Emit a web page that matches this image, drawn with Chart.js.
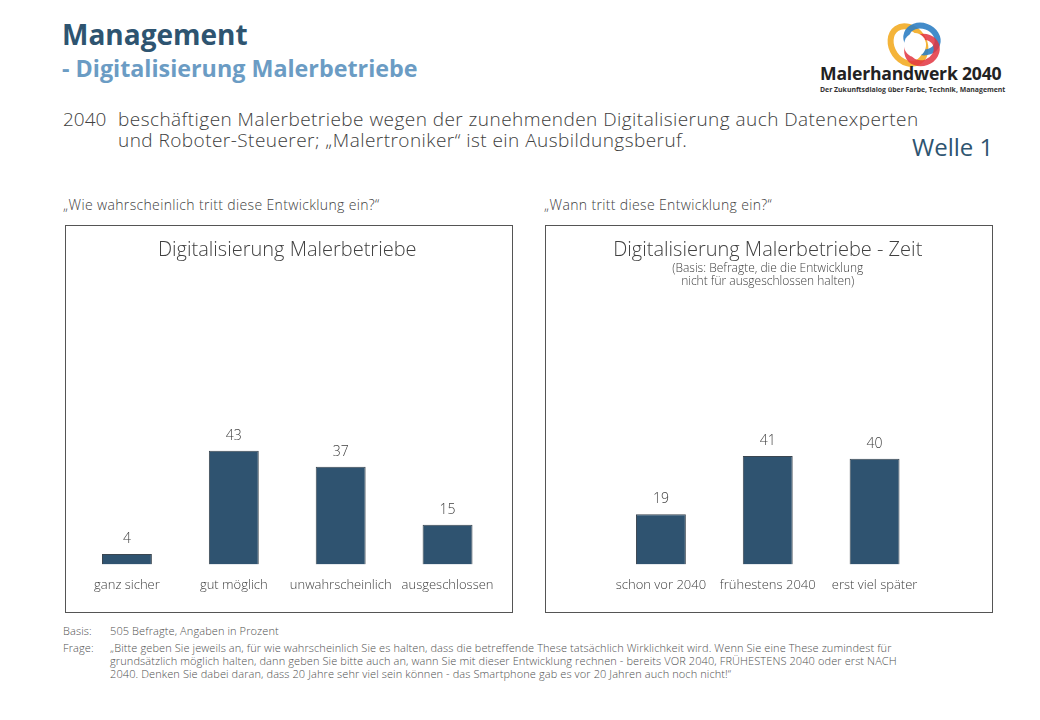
<!DOCTYPE html>
<html lang="de">
<head>
<meta charset="utf-8">
<title>Digitalisierung Malerbetriebe</title>
<script src="https://cdn.jsdelivr.net/npm/chart.js@4.4.1/dist/chart.umd.min.js"></script>
<style>
  body { margin: 0; width: 1040px; height: 720px; background: #fff; position: relative; overflow: hidden;
         font-family: "Open Sans", "DejaVu Sans", sans-serif; color: #404040; }
  .abs { position: absolute; white-space: nowrap; }
  .h1 { left: 62px; top: 15px; font-size: 28px; font-weight: 700; color: #2e5470; line-height: 38px; }
  .h2 { left: 62px; top: 52px; font-size: 23.3px; font-weight: 700; color: #6b9cc4; line-height: 32px; }
  .lead { left: 63px; top: 109px; font-size: 19px; font-weight: 300; line-height: 21px; letter-spacing: 0.45px; }
  .lead span { display: inline-block; width: 55px; letter-spacing: 0; }
  .lead .l2 { padding-left: 55px; }
  .welle { left: 912px; top: 131px; font-size: 24px; color: #2e5470; line-height: 32px; }
  .q { font-size: 14px; font-weight: 300; line-height: 16px; top: 197px; letter-spacing: 0.35px; }
  .box { position: absolute; top: 225px; width: 448px; height: 388px; border: 1px solid #555; box-sizing: border-box; }
  canvas { position: absolute; top: 225px; }
  .foot { font-size: 11px; font-weight: 300; color: #505050; line-height: 13px; letter-spacing: 0.1px; }
  .logo-t1 { left: 820px; top: 61px; font-size: 17.6px; font-weight: 700; color: #222; line-height: 24px; letter-spacing: -0.2px; }
  .logo-t2 { left: 820px; top: 85px; font-size: 6.9px; font-weight: 700; color: #333; line-height: 10px; }
</style>
</head>
<body>
<div class="abs h1">Management</div>
<div class="abs h2">- Digitalisierung Malerbetriebe</div>
<svg class="abs" style="left:882px;top:19px" width="70" height="50" viewBox="0 0 70 50">
  <ellipse cx="26" cy="26" rx="16" ry="20" transform="rotate(-35 26 26)" fill="none" stroke="#f4b43a" stroke-width="6"/>
  <ellipse cx="40" cy="20" rx="16" ry="13" transform="rotate(20 40 20)" fill="none" stroke="#2f7fc4" stroke-width="6" opacity="0.9"/>
  <ellipse cx="40" cy="31" rx="15" ry="13" transform="rotate(-20 40 31)" fill="none" stroke="#e2343f" stroke-width="6" opacity="0.85"/>
  <ellipse cx="33" cy="26" rx="11" ry="12" fill="#fff"/>
</svg>
<div class="abs logo-t1">Malerhandwerk 2040</div>
<div class="abs logo-t2">Der Zukunftsdialog über Farbe, Technik, Management</div>

<div class="abs lead"><span>2040</span>beschäftigen Malerbetriebe wegen der zunehmenden Digitalisierung auch Datenexperten<br><div class="l2">und Roboter-Steuerer; „Malertroniker“ ist ein Ausbildungsberuf.</div></div>
<div class="abs welle">Welle 1</div>

<div class="abs q" style="left:63px">„Wie wahrscheinlich tritt diese Entwicklung ein?“</div>
<div class="abs q" style="left:544px">„Wann tritt diese Entwicklung ein?“</div>

<div class="box" style="left:65px"></div>
<div class="box" style="left:545px"></div>
<canvas id="chartLeft" width="448" height="388" style="left:65px"></canvas>
<canvas id="chartRight" width="448" height="388" style="left:545px"></canvas>

<div class="abs foot" style="left:63px;top:624px">Basis:</div>
<div class="abs foot" style="left:110px;top:624px">505 Befragte, Angaben in Prozent</div>
<div class="abs foot" style="left:63px;top:641px">Frage:</div>
<div class="abs foot" style="left:110px;top:641px">„Bitte geben Sie jeweils an, für wie wahrscheinlich Sie es halten, dass die betreffende These tatsächlich Wirklichkeit wird. Wenn Sie eine These zumindest für<br>grundsätzlich möglich halten, dann geben Sie bitte auch an, wann Sie mit dieser Entwicklung rechnen  - bereits VOR 2040, FRÜHESTENS 2040 oder erst NACH<br>2040. Denken Sie dabei daran, dass 20 Jahre sehr viel sein können - das Smartphone gab es vor 20 Jahren  auch noch nicht!“</div>

<script>
// Daten
const likelihoodLabels = ["ganz sicher", "gut möglich", "unwahrscheinlich", "ausgeschlossen"];
const likelihoodValues = [4, 43, 37, 15];
const timingLabels = ["schon vor 2040", "frühestens 2040", "erst viel später"];
const timingValues = [19, 41, 40];

const barColor = "#2f5370";
const textColor = "#404040";
const fontFamily = '"Open Sans", "DejaVu Sans", sans-serif';

// value above the bar, category below the baseline
const barLabels = {
  id: "barLabels",
  afterDatasetsDraw(chart) {
    const { ctx, chartArea } = chart;
    const meta = chart.getDatasetMeta(0);
    const xScale = chart.scales.x;
    const labels = chart.data.labels;
    const values = chart.data.datasets[0].data;
    ctx.save();
    ctx.fillStyle = textColor;
    ctx.textAlign = "center";
    ctx.textBaseline = "middle";
    meta.data.forEach((bar, i) => {
      ctx.font = "300 14px " + fontFamily;
      ctx.fillText(values[i], bar.x, bar.y - 15);
      ctx.font = "300 13px " + fontFamily;
      ctx.fillText(labels[i], xScale.getPixelForValue(i), chartArea.bottom + 20.5);
    });
    ctx.restore();
  }
};

const makeChart = (elemId, labels, values, title, subtitle, padding, titleBottom, subBottom) => {
  const chartElem = document.getElementById(elemId);
  return new Chart(chartElem, {
    type: "bar",
    data: {
      labels,
      datasets: [
        {
          data: values,
          backgroundColor: barColor,
          borderColor: "#3b4650",
          borderWidth: 1,
          barPercentage: 0.467,
          categoryPercentage: 1
        }
      ]
    },
    options: {
      responsive: false,
      animation: false,
      layout: { padding },
      scales: {
        x: { display: false },
        y: { display: false, min: 0, max: 90 }
      },
      plugins: {
        legend: { display: false },
        tooltip: { enabled: false },
        title: {
          display: true,
          text: title,
          color: textColor,
          font: { family: fontFamily, size: 20, weight: 300 },
          padding: { top: 13, bottom: titleBottom }
        },
        subtitle: {
          display: subtitle !== null,
          text: subtitle || "",
          color: textColor,
          font: { family: fontFamily, size: 12, weight: 300, lineHeight: 1.1 },
          padding: { top: 0, bottom: subBottom }
        }
      }
    },
    plugins: [barLabels]
  });
};

makeChart("chartLeft", likelihoodLabels, likelihoodValues,
  "Digitalisierung Malerbetriebe", null,
  { left: 8.5, right: 12, top: 0, bottom: 48.5 }, 64.5, 0);

makeChart("chartRight", timingLabels, timingValues,
  "Digitalisierung Malerbetriebe - Zeit",
  ["(Basis: Befragte, die die Entwicklung", "nicht für ausgeschlossen halten)"],
  { left: 62.5, right: 65, top: 0, bottom: 48.5 }, 0, 38.1);
</script>
</body>
</html>
